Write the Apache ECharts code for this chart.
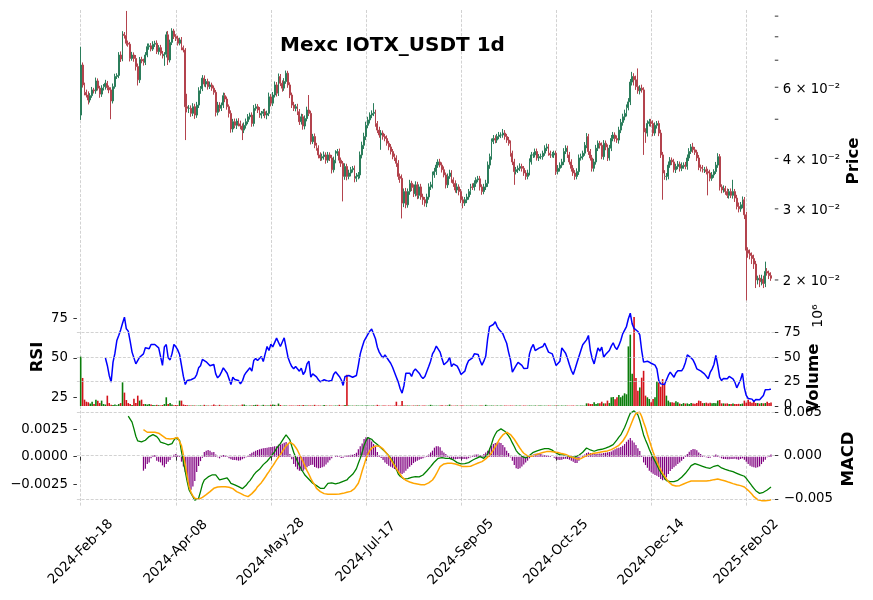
<!DOCTYPE html>
<html>
<head>
<meta charset="utf-8">
<title>Mexc IOTX_USDT 1d</title>
<script src="https://cdn.jsdelivr.net/npm/echarts@6.0.0/dist/echarts.min.js"></script>
<style>
  html, body { margin: 0; padding: 0; background: #fff; }
  #chart { width: 873px; height: 600px; }
</style>
</head>
<body>
<div id="chart"></div>
<script>
// ---- data ----
// first candle is 2024-02-18, one candle per day
var firstDay = Date.UTC(2024, 1, 18);
var monthNames = ['Jan', 'Feb', 'Mar', 'Apr', 'May', 'Jun', 'Jul', 'Aug', 'Sep', 'Oct', 'Nov', 'Dec'];
var xTickLabels = ['2024-Feb-18', '2024-Apr-08', '2024-May-28', '2024-Jul-17',
                   '2024-Sep-05', '2024-Oct-25', '2024-Dec-14', '2025-Feb-02'];

// prices in units of 1e-4 USDT
var firstOpenE4 = 512;
var closeE4 = [681,608,583,574,558,572,591,588,622,597,
577,597,602,614,599,591,555,602,638,642,
721,705,812,806,771,767,707,721,707,675,
626,703,697,691,721,756,760,746,767,771,
735,752,728,718,724,809,701,775,827,801,
793,771,786,752,742,537,532,532,517,537,
512,542,588,595,632,611,620,602,608,597,
583,520,542,532,542,572,561,537,517,473,
493,483,495,487,481,470,483,493,507,512,
488,532,537,527,512,517,522,512,517,568,
548,574,608,580,638,614,597,620,650,608,
574,542,532,537,522,493,507,481,502,527,
517,440,453,431,424,408,401,404,408,396,
408,401,375,396,412,416,396,389,361,382,
361,368,375,378,357,361,364,408,431,453,
483,498,512,517,520,488,470,457,462,453,
448,436,427,416,404,401,389,361,357,310,
331,307,331,347,339,327,344,324,340,321,
316,310,321,340,344,364,371,385,392,385,
375,364,344,361,368,354,347,334,340,331,
316,310,316,321,331,340,339,347,354,356,
340,331,340,347,385,404,440,448,444,453,
457,457,462,453,444,436,412,392,371,375,
378,382,378,368,361,368,392,408,408,416,
401,404,404,412,424,427,412,408,408,412,
371,378,385,392,416,424,408,392,378,368,
361,371,401,404,412,431,453,416,401,378,
392,424,436,431,404,436,427,401,424,448,
457,448,444,470,491,507,517,534,552,618,
638,626,602,588,597,591,465,462,488,493,
488,462,483,488,462,408,368,361,361,385,
396,392,375,382,387,378,384,385,382,401,
416,427,420,414,401,380,378,375,375,371,
368,357,364,371,385,404,340,334,337,331,
324,331,324,331,319,304,300,307,316,290,
237,233,230,226,219,200,202,198,201,196,
210,208,205,202];

// wick lengths above / below the candle body, 1e-4 USDT
var upperWickE4 = [75,10,8,9,12,8,10,7,12,9,
8,10,9,12,8,7,9,11,10,8,
12,15,14,10,121,12,10,13,11,14,
12,10,11,9,12,14,10,12,13,11,
13,11,12,10,9,15,18,12,13,10,
11,12,10,13,9,8,41,10,9,11,
9,10,12,9,11,10,9,10,12,8,
9,8,10,9,8,10,9,8,7,9,
8,9,7,8,9,7,8,9,8,7,
8,10,9,8,9,7,8,9,8,14,
9,10,12,10,11,9,10,12,10,9,
9,8,10,8,9,8,9,8,9,10,
47,8,7,8,6,7,6,7,8,6,
7,6,7,8,7,6,7,6,5,7,
6,7,6,5,6,7,6,8,9,10,
10,9,8,9,28,8,7,9,8,7,
7,8,6,7,6,7,6,7,6,8,
6,7,6,7,5,6,7,6,5,6,
6,5,6,7,6,7,8,7,6,7,
6,7,5,6,7,6,5,6,7,5,
5,6,5,6,5,6,7,6,5,6,
6,5,6,7,8,7,8,9,8,7,
8,7,11,8,7,8,7,6,7,6,
6,7,6,5,6,7,8,7,6,7,
7,6,7,6,7,8,7,6,7,6,
6,7,6,7,8,7,6,7,6,7,
6,7,8,7,6,8,9,7,6,7,
7,8,7,6,7,8,7,6,8,9,
8,7,8,9,10,9,11,10,12,11,
17,12,15,66,10,12,9,10,9,8,
8,9,8,7,8,9,7,6,7,8,
7,6,7,6,7,6,7,6,7,8,
8,7,10,7,6,7,6,7,6,7,
6,7,6,5,7,8,6,5,6,5,
6,5,6,23,5,6,7,5,6,5,
5,4,5,4,5,4,3,4,5,4,
12,4,3,4];

var lowerWickE4 = [14,9,10,8,14,8,7,9,10,8,
12,9,8,10,9,11,55,8,7,9,
10,12,9,14,10,11,12,9,13,15,
20,11,9,12,10,9,13,10,8,12,
10,12,9,11,40,13,20,10,12,11,
12,10,9,11,10,93,12,14,10,8,
11,8,9,10,8,9,11,10,8,9,
8,12,9,10,8,9,10,9,12,10,
9,8,10,7,9,26,8,9,7,8,
9,8,7,9,8,10,8,9,12,8,
10,9,8,11,9,10,12,9,8,10,
10,9,8,9,10,9,8,10,9,8,
8,7,6,7,6,8,7,6,7,8,
6,7,8,6,7,6,7,8,48,7,
8,6,7,6,8,7,6,7,8,9,
9,8,10,9,8,9,8,7,37,8,
7,6,8,7,6,7,8,7,9,26,
7,6,5,6,7,6,5,7,6,5,
9,6,7,5,6,7,6,7,6,5,
6,5,7,6,5,6,7,5,6,7,
6,9,5,6,5,6,5,6,7,5,
7,6,5,6,7,8,7,6,8,7,
7,8,7,8,7,6,8,7,27,6,
7,6,7,6,7,6,5,6,7,6,
6,7,6,7,6,7,6,7,6,7,
7,6,7,6,7,6,7,6,7,6,
7,6,7,6,7,6,7,8,6,7,
7,6,7,8,6,7,8,7,6,7,
7,8,7,9,8,9,10,9,8,10,
12,20,11,10,12,9,57,25,9,8,
9,8,7,9,8,7,52,7,8,6,
6,7,6,7,6,7,6,7,6,7,
7,6,7,6,7,6,7,6,7,6,
44,6,5,6,5,6,7,6,5,6,
5,6,5,6,7,5,6,5,6,7,
59,6,5,7,6,9,5,6,4,5,
4,3,4,3];

// volume, millions
var volumeM = [50.5,28.7,6.5,4.4,3.8,2.5,4.4,2.0,6.5,5.5,
3.0,5.5,2.0,1.5,10.6,3.0,1.4,1.0,1.5,0.8,
2.0,3.0,24.2,13.7,6.1,3.0,2.0,1.0,7.5,3.0,
10.6,5.5,6.5,2.0,2.0,1.5,2.0,1.5,1.0,0.8,
1.2,0.8,0.6,1.0,2.0,8.9,2.0,3.0,1.5,0.8,
1.0,0.8,5.5,5.5,1.5,1.0,0.8,0.5,0.6,0.4,
0.5,0.3,0.4,0.6,0.3,1.2,0.4,0.5,0.3,0.4,
1.5,0.6,0.3,1.2,0.4,0.3,0.5,0.4,0.3,0.6,
0.4,0.3,0.5,0.4,0.3,1.5,1.5,0.4,0.3,0.5,
0.4,0.8,1.2,1.2,0.3,0.4,1.2,0.5,0.4,0.6,
1.2,1.5,1.2,0.4,2.5,1.0,0.3,0.4,0.5,0.3,
0.4,0.5,0.4,0.3,0.6,0.8,0.4,1.0,0.5,0.4,
0.6,0.5,0.4,1.2,0.3,0.5,0.4,0.3,1.0,0.4,
0.3,0.5,0.4,0.3,0.5,0.4,1.2,0.3,0.4,1.0,
32.0,0.5,0.3,0.4,0.3,0.5,0.4,0.3,0.4,0.3,
0.5,0.4,0.3,0.4,0.5,0.3,1.2,0.4,0.3,0.5,
0.4,0.3,0.5,0.4,0.3,0.5,4.4,0.4,0.6,5.0,
0.6,0.4,0.5,0.4,0.3,0.5,0.4,0.6,0.4,0.3,
0.5,0.4,0.3,0.4,1.2,0.5,0.3,0.4,0.3,0.5,
0.8,0.3,0.4,0.5,1.5,0.4,0.3,0.4,0.5,0.3,
0.4,0.5,0.3,0.4,0.3,0.5,0.4,0.3,0.4,0.3,
0.5,0.4,0.3,1.2,0.4,0.3,0.5,0.4,0.3,0.4,
0.3,0.4,0.3,0.5,0.4,0.3,0.5,0.4,0.3,0.4,
0.3,0.4,0.3,0.5,0.4,0.3,0.5,0.4,0.3,0.4,
0.3,0.5,0.4,0.3,0.4,0.3,0.5,0.4,0.3,0.4,
0.5,0.4,0.3,0.4,0.3,0.5,0.4,0.3,0.4,0.5,
0.3,0.4,0.3,0.5,0.4,0.3,2.7,2.7,2.0,2.0,
3.8,2.0,2.7,2.7,4.4,2.7,2.7,5.5,3.0,8.9,
9.2,6.8,8.9,11.3,9.0,10.6,13.0,12.0,61.0,73.0,
33.0,91.0,28.7,15.7,19.0,29.0,36.0,10.6,8.9,7.2,
3.8,7.2,8.9,25.0,24.0,19.8,27.6,22.5,10.6,5.5,
3.8,3.8,3.4,4.8,3.8,2.5,2.0,3.0,2.5,2.7,
2.0,3.0,2.5,2.2,3.0,5.5,5.0,3.0,3.0,3.4,
2.7,3.4,2.7,3.0,2.7,5.5,6.1,2.7,2.7,2.5,
2.7,2.0,2.0,2.5,2.0,2.0,2.2,2.0,2.5,5.5,
3.4,6.5,4.4,3.4,5.5,3.0,3.0,2.5,3.0,2.7,
3.0,4.4,3.0,3.5];

// RSI, first value on candle 13
var rsiStart = 13;
var rsiValues = [50,45.3,39.0,34.8,47.4,53,61,64.2,67.7,71.9,
75.7,68.4,66.9,60.6,53.7,53,46.3,45.3,50.5,50.5,
52.6,56.4,57.2,55.8,58.5,58.9,58.5,58.5,56.4,55.8,
45.3,57,58.5,50.1,48.8,52.6,58.5,57.2,55.1,52.2,
51.6,38.4,33.3,35.8,36.3,36.3,35.8,37.5,39.6,43.8,
45.1,49.1,48.6,47.6,47,45.1,44.9,45.9,40,37.5,
38.8,41.1,43.8,44.2,40.4,36.9,33.3,37.9,36.5,36.9,
35.8,33.7,35.4,39,40.9,42.1,43.8,41.7,48.4,49.7,
48.4,48.4,50.9,47.8,52.6,57.2,54.7,58.7,57,57.9,
62.5,61.4,57.2,56.8,62.7,63.5,50.5,47.2,44.6,43.2,
44.6,44.2,41.7,43.6,39.6,41.5,46.3,48,37.9,40,
39.6,38.1,36.3,35,34.8,36.3,35.2,35.4,34.8,35.8,
39.6,41.3,41.3,38.4,36.3,32.7,38.4,37.5,39,38.8,
37.9,38.1,39,45.3,52.6,56.8,60.6,60.2,64.8,66.9,
68.2,67.7,62.1,56.8,53.7,51.6,50.1,52,51.6,48.4,
46.7,44.2,44.9,37.9,34.8,30.6,27.9,32.7,40.4,41.1,
40.4,38.4,41.7,43,42.5,40.4,38.4,37.1,38.4,41.5,
44.6,48,52.6,54.7,57.5,56.8,53.7,49.5,45.7,46.3,
48,50.5,44.6,46.3,45.1,44.9,42.5,39.6,38.8,41.7,
45.7,48.4,49.1,50.1,52.6,53.5,52.2,48.4,45.5,48,
51.2,62.1,69.8,68.8,71.1,72.8,69.8,67.9,66.9,65.2,
62.1,59.3,53.7,48.8,41.1,40.4,45.3,47.2,46.3,45.3,
43.4,42.3,43.6,52.6,56.4,58.5,54.7,55.8,56.2,56.8,
57.2,59.3,59.3,53.7,54.3,52.6,53.7,45.3,44.2,48,
56.4,56.2,53,49.7,45.7,42.1,39.6,43.2,47.2,50.9,
54.7,58.3,59.3,61.4,64.2,54.7,49.5,46.3,51.4,56.4,
54.3,56.8,50.5,52.2,52.6,54.7,57.5,59.6,56.8,55.4,
57.9,61,65.2,65.6,69.8,74.7,78.2,71.5,68.6,68.4,
66.7,64.6,54.7,47.4,47,48,48,46.7,46.3,45.5,
43.2,35.8,33.7,33.7,33.3,34.2,39,41.1,40,37.9,
40.6,41.9,41.3,41.9,43.8,47.2,52,51.6,50.1,48.8,
46.3,43.2,42.8,41.9,40.9,40,39,36.9,40.9,43,
45.9,51.6,45.3,37.9,35.8,37.1,36.3,36.9,38.4,39,
36.9,34.8,31.2,32,36.3,40.4,31.2,26.4,24.5,25.1,
24.1,22.6,23.9,23.9,23.7,23.7,26.4,30,30.4,30.2,
30.4];

// MACD line, units of 1e-4, first value on candle 25
var macdStart = 25;
var macdE4 = [45.4,44.6,38.5,30.8,22.3,16.9,15.4,15.8,15.4,17.7,
20,21.9,23.5,24.2,23.8,21.9,19.2,15.4,13.5,14.2,
15.4,12.3,10.4,13.8,17.7,20.4,20.4,17.7,4.6,-6.9,
-18.5,-30,-39.6,-43.5,-47.3,-51.5,-52.7,-49.2,-41.5,-33.1,
-28.1,-25.8,-24.6,-23.5,-22.3,-21.5,-22.3,-25,-28.1,-28.8,
-26.9,-25.4,-25.8,-28.5,-31.9,-33.8,-33.8,-34.6,-35.8,-36.5,
-38.1,-37.3,-34.2,-31.2,-28.8,-25.8,-22.3,-19.6,-17.7,-15.8,
-13.5,-10.4,-8.5,-6.5,-4.6,-1.2,0.8,4.6,8.5,11.2,
13.8,17.3,20.8,23.8,23.1,18.1,10.8,3.8,-1.5,-6.9,
-11.5,-15.8,-19.2,-22.7,-24.6,-27.3,-29.2,-31.9,-33.1,-34.6,
-36.5,-37.7,-38.1,-37.7,-35.4,-31.9,-30,-31.5,-33.1,-32.7,
-31.9,-31.5,-30.4,-29.6,-29.2,-28.1,-25.4,-23.1,-21.5,-18.5,
-15,-8.8,-3.1,3.5,11.5,16.9,20.8,20.4,18.8,16.2,
14.6,12.7,11.5,8.8,6.5,4.6,2.7,0,-3.1,-6.2,
-10.8,-15.8,-21.2,-23.8,-25.8,-26.9,-26.9,-26.5,-25.8,-25,
-24.2,-24.2,-24.6,-24.6,-24.2,-22.3,-20.4,-17.7,-15.8,-12.7,
-10,-7.3,-5,-3.1,-2.3,-2.3,-2.3,-3.1,-3.1,-3.1,
-3.8,-5,-6.5,-8.1,-9.6,-9.6,-8.8,-9.2,-10,-8.1,
-6.5,-5.4,-4.2,-3.1,-1.9,-1.2,-2.3,-3.1,-1.5,1.5,
7.3,13.1,20,24.6,28.1,30,30.8,30,28.1,25.8,
22.7,19.2,14.6,10.4,5.8,3.1,0.8,-0.8,-2.3,-2.7,
-2.3,0,1.9,3.8,4.6,5.4,6.2,6.9,7.7,8.1,
8.5,8.1,7.7,6.2,5,3.1,1.5,0.8,0.8,0.8,
0.4,-0.4,-1.2,-1.9,-2.3,-1.5,-0.8,0.4,1.5,3.8,
5.8,8.8,8.1,6.5,5.4,5,6.2,6.5,6.5,7.3,
7.7,8.5,9.6,10.4,11.2,12.7,14.2,18.1,21.2,23.8,
28.1,32.3,37.7,43.5,48.8,50.4,51.5,50.4,46.9,40.4,
32.3,23.8,18.1,13.1,7.3,2.3,-2.3,-6.5,-10.8,-15.4,
-19.2,-22.3,-25.8,-28.8,-29.6,-30,-30,-30,-29.6,-28.5,
-27.3,-25,-23.1,-20.4,-18.1,-14.6,-11.5,-9.2,-9.2,-10,
-10.8,-11.5,-12.3,-13.1,-13.8,-14.2,-14.6,-13.5,-12.3,-10.4,
-11.2,-13.1,-14.2,-15.4,-15.8,-16.5,-17.3,-17.7,-18.5,-19.2,
-20.4,-21.5,-22.3,-22.7,-23.8,-26.2,-29.2,-31.5,-35,-37.7,
-40.4,-42.7,-43.5,-43.1,-42.3,-41.2,-39.6,-38.1,-36.2];

// signal line and histogram, units of 1e-4, first value on candle 33
var signalStart = 33;
var signalE4 = [30,27.7,26.9,26.9,26.9,26.9,26.9,26.5,25.8,24.2,
22.7,20.8,19.6,19.2,19.2,19.2,19.6,20,20.8,20,
11.5,0.8,-10.8,-24.2,-35.8,-42.3,-46.5,-49.2,-50.4,-50.4,
-50,-48.1,-46.2,-45,-43.5,-41.5,-39.2,-37.7,-36.5,-36.2,
-35.8,-35.8,-35.8,-35.8,-35.8,-36.5,-37.3,-38.1,-39.6,-41.5,
-42.7,-43.5,-44.6,-45.8,-46.9,-47.3,-46.2,-43.8,-41.9,-39.2,
-35.8,-33.8,-31.2,-28.1,-25,-21.5,-18.5,-15,-11.9,-8.5,
-5,-2.7,1.2,4.6,8.1,11.2,13.5,15.4,14.6,12.7,
9.6,6.2,1.5,-3.1,-7.3,-12.3,-17.3,-21.5,-26.2,-30.4,
-33.5,-37.7,-39.6,-41.5,-42.7,-43.8,-44.2,-44.6,-44.6,-44.6,
-44.6,-44.6,-44.6,-44.2,-43.8,-43.5,-43.1,-42.3,-41.9,-41.2,
-39.6,-38.1,-36.2,-31.9,-25.4,-17.7,-10.8,-3.8,1.5,5.8,
8.5,10.4,11.2,11.5,10.8,9.6,7.7,5.4,2.3,-0.8,
-4.2,-7.7,-11.5,-15,-18.5,-21.5,-24.6,-26.9,-28.5,-29.6,
-30.4,-31.2,-31.9,-32.3,-32.7,-33.1,-33.5,-33.8,-33.5,-33.1,-31.5,
-30.4,-28.1,-25,-21.2,-16.9,-12.7,-10.8,-9.6,-9.2,-8.8,
-8.8,-8.8,-8.8,-9.6,-10,-11.2,-11.9,-12.7,-12.7,-12.7,
-12.3,-12.3,-11.2,-10.4,-9.2,-8.5,-7.7,-6.9,-5.8,-3.8,
-1.9,0.4,3.1,6.5,10.4,13.8,18.1,21.2,23.8,25.8,
26.9,25.8,24.2,21.9,18.8,15.4,11.9,8.5,5.4,2.7,
0.8,-0.4,-1.2,-0.8,0,0.8,1.9,2.3,3.1,3.5,
3.8,4.6,4.6,4.6,4.6,4.2,3.8,3.5,2.7,2.3,
1.5,1.2,0.4,-0.8,-1.5,-2.3,-3.1,-3.8,-3.8,-3.5,
-2.7,-1.2,0,0.8,1.5,2.3,2.7,3.1,3.5,3.8,
4.2,4.6,5,5.4,6.2,6.9,8.1,9.2,10.4,11.9,
13.5,16.5,20,23.5,28.5,33.8,39.2,44.6,48.8,50.8,
50,45,38.5,32.3,24.6,17.7,10.8,4.2,-1.5,-6.5,
-11.9,-16.5,-20.4,-23.8,-26.9,-30,-32.3,-33.8,-34.6,-35,
-35,-34.6,-34.2,-32.7,-31.5,-30.8,-29.6,-29.2,-29.2,-29.2,
-29.2,-29.2,-29.2,-29.2,-29.2,-29.2,-29.2,-28.8,-28.5,-27.7,
-26.9,-26.9,-27.3,-28.1,-28.5,-29.2,-30,-30.8,-31.2,-32.3,
-32.7,-33.5,-33.8,-34.6,-35.4,-36.2,-37.3,-40,-42.3,-44.6,
-47.3,-49.2,-50.8,-51.5,-51.9,-51.9,-51.9,-51.9,-51.5,-50.8];

var histE4 = [-12.7,-11,-6.7,-5.2,-1.5,1.2,1.5,-3.6,-4.5,-5.2,
-7.9,-9.7,-6.7,-4.5,-3,-0.6,1.8,2.4,1.2,0.6,
-4.5,-9,-14,-21,-27,-30,-27,-22,-14,-8.5,
-4,-1,4.2,5.5,6,5.5,4,4.2,2,-0.6,
-1.5,0.6,1.5,1.2,0.3,-1.5,-2.4,-3,-3,-3.3,
-3.6,-3.3,-2.4,-1.5,-0.6,0.6,2.4,3.6,4.5,5.5,
6.1,6.7,7.3,7.6,7.9,8.2,8.5,8.8,9.1,9.4,
9.4,10.9,11.2,11.8,12.7,13.3,11.5,2.4,-2.4,-6.7,
-9.1,-11.5,-12.7,-13,-12.7,-11.5,-9.7,-8.5,-7.6,-7.3,
-9.4,-10,-10.6,-10.3,-9.7,-8.8,-7,-5.2,-3.3,-1.5,
0,0.6,0.9,0.3,-1.2,-0.9,0.3,1.2,1.5,1.8,
1.8,2.4,3.6,6.7,9.4,12.1,16.1,17.6,17.9,16.1,
13.9,11.5,9.1,4.2,1.2,-1.2,-3,-5.2,-6.7,-8.2,
-9.1,-10,-11.2,-12.4,-13.6,-15.2,-15.8,-14.5,-12.7,-10.9,
-9.1,-7.6,-5.8,-4.5,-3.6,-2.7,-2.1,-1.5,-0.6,0.6,2.1,
3.9,5.5,8.2,9.4,9.4,8.5,5.5,3.9,2.4,0.9,
-1.5,-2.1,-2.1,-2.4,-2.1,-1.8,-1.8,-2.1,-2.1,-2.4,
-1.5,-0.6,0.9,1.8,2.1,2.1,1.5,0.9,2.4,3.9,
5.5,7.6,10,11.5,12.4,13,13,12.4,10.6,8.5,
5.5,3.3,-0.6,-3.6,-7.6,-10.6,-11.2,-10.6,-8.8,-7,
-5.2,-3.6,-1.5,0.9,2.1,2.7,3,2.7,2.4,1.8,
1.5,1.2,0.9,0.6,0,-0.9,-2.1,-2.7,-3,-2.7,
-2.1,-1.8,-2.1,-2.7,-3.6,-4.5,-5.8,-5.8,-3.6,-0.6,
0.9,2.1,3.3,3.9,3.3,2.7,2.4,2.4,2.7,3,
3,3.3,3.6,3.9,4.2,4.8,5.8,6.7,7.6,8.2,
8.8,10,11.5,13.6,15.5,17,14.8,13,10.6,7.6,
5.2,0.9,-5.2,-7.6,-10,-12.7,-14.2,-15.5,-16.7,-17.3,
-18.5,-20.3,-21.5,-20.9,-18.8,-15.8,-13,-11.2,-9.7,-8.2,
-6.7,-5.2,-3.6,-2.1,0.9,2.4,4.5,6.1,7,6.7,
5.8,3.9,2.4,0.9,0.3,-0.6,-1.2,-0.9,0,0.9,
2.1,1.5,-0.6,-1.5,-2.1,-2.1,-2.4,-2.4,-2.1,-2.1,
-1.8,-2.4,-2.7,-2.1,-1.5,-2.7,-4.5,-6.7,-8.2,-9.1,
-9.7,-10,-9.7,-8.8,-6.7,-4.5,-2.7,-0.6,0.9,2.1];

// axis ticks
var priceMinorTicks = [0.02, 0.03, 0.04, 0.05, 0.06, 0.07, 0.08, 0.09];
var priceLabelTicks = [0.02, 0.03, 0.04, 0.06];
var rsiTicks = [25, 50, 75];
var volumeTicks = [0, 25, 50, 75];
var histTicksE4 = [-25, 0, 25];
var macdTicksE4 = [-50, 0, 50];

// ---- layout ----
var FONT = 'DejaVu Sans';
var GRID_LEFT = 76.9;
var GRID_RIGHT = 98.2;
var PLOT_RIGHT = 873 - GRID_RIGHT;
var PAD_BEFORE = 2, PAD_AFTER = 2;
var UP = '#2b7d5b', DOWN = '#b3434d';
var VOL_UP = '#0b7d0b', VOL_DOWN = '#d3121a';

var nCandles = closeE4.length;
var categories = [];
for (var k = 0; k < nCandles + PAD_BEFORE + PAD_AFTER; k++) {
    var d = new Date(firstDay + (k - PAD_BEFORE) * 86400000);
    var dd = d.getUTCDate();
    categories.push(d.getUTCFullYear() + '-' + monthNames[d.getUTCMonth()] + '-' + (dd < 10 ? '0' + dd : dd));
}

// candles open at the previous close (24h market)
var openE4 = [firstOpenE4].concat(closeE4.slice(0, nCandles - 1));

function pad(values, start) {
    var out = [];
    for (var k = 0; k < categories.length; k++) {
        var i = k - PAD_BEFORE - start;
        out.push(i >= 0 && i < values.length ? values[i] : '-');
    }
    return out;
}

var candles = [], volumes = [];
for (var i = 0; i < nCandles; i++) {
    var o = openE4[i] / 1e4, c = closeE4[i] / 1e4;
    var hi = Math.max(openE4[i], closeE4[i]) + upperWickE4[i];
    var lo = Math.min(openE4[i], closeE4[i]) - lowerWickE4[i];
    candles.push([o, c, lo / 1e4, hi / 1e4]);
    volumes.push({
        value: volumeM[i],
        itemStyle: { color: closeE4[i] >= openE4[i] ? VOL_UP : VOL_DOWN }
    });
}

function isTick(idx, val) {
    return xTickLabels.indexOf(val) >= 0;
}

function fmtNum(v, digits) {
    var s = Math.abs(v).toFixed(digits);
    return (v < -1e-9 ? '\u2212' : '') + s;
}

var gridLineStyle = { color: '#c6c6c6', width: 0.8, type: [3, 1.6] };

function xAxisFor(gridIndex, bottom) {
    return {
        type: 'category',
        gridIndex: gridIndex,
        data: categories,
        boundaryGap: false,
        axisLine: { show: false },
        axisTick: { show: bottom, interval: isTick, length: 4, lineStyle: { color: '#000', width: 0.8 } },
        axisLabel: {
            show: bottom, interval: isTick, rotate: 45, align: 'center', verticalAlign: 'middle',
            margin: 45, fontFamily: FONT, fontSize: 13.5, color: '#000'
        },
        splitLine: { show: true, interval: isTick, lineStyle: gridLineStyle }
    };
}

function valueAxis(gridIndex, pos, min, max, ticks, fmt) {
    return {
        type: 'value',
        gridIndex: gridIndex,
        position: pos,
        min: min,
        max: max,
        axisLine: { show: false },
        axisTick: { show: true, customValues: ticks, length: 3.5, lineStyle: { color: '#000', width: 0.8 } },
        axisLabel: {
            customValues: ticks, margin: 9, fontFamily: FONT, fontSize: 13.3, color: '#000',
            formatter: fmt
        },
        splitLine: { show: false }
    };
}

var chart = echarts.init(document.getElementById('chart'), null, { renderer: 'canvas' });

chart.setOption({
    animation: false,
    backgroundColor: '#fff',
    grid: [
        { left: GRID_LEFT, right: GRID_RIGHT, top: 10, height: 294 },
        { left: GRID_LEFT, right: GRID_RIGHT, top: 304, height: 102 },
        { left: GRID_LEFT, right: GRID_RIGHT, top: 406, height: 101 }
    ],
    xAxis: [xAxisFor(0, false), xAxisFor(1, false), xAxisFor(2, true)],
    yAxis: [
        {
            type: 'log', logBase: 10, gridIndex: 0, position: 'right',
            min: 0.01744, max: 0.0932,
            axisLine: { show: false }, axisTick: { show: false },
            axisLabel: { show: false }, splitLine: { show: false }
        },
        valueAxis(1, 'left', 19.77, 84.0, rsiTicks, function (v) { return String(v); }),
        valueAxis(1, 'right', 0, 104.4, volumeTicks, function (v) { return String(v); }),
        valueAxis(2, 'left', -45.73, 46.09, histTicksE4, function (v) { return fmtNum(v / 1e4, 4); }),
        valueAxis(2, 'right', -59.22, 57.14, macdTicksE4, function (v) { return fmtNum(v / 1e4, 3); })
    ],
    series: [
        {
            type: 'candlestick', xAxisIndex: 0, yAxisIndex: 0,
            data: pad(candles, 0),
            barWidth: 1.4,
            itemStyle: { color: UP, color0: DOWN, borderColor: UP, borderColor0: DOWN, borderWidth: 1 }
        },
        {
            type: 'bar', xAxisIndex: 1, yAxisIndex: 2,
            data: pad(volumes, 0),
            barWidth: 1.6,
            markLine: {
                silent: true, symbol: 'none', label: { show: false },
                lineStyle: gridLineStyle,
                data: [{ yAxis: 25 }, { yAxis: 50 }, { yAxis: 75 }]
            }
        },
        {
            type: 'line', xAxisIndex: 1, yAxisIndex: 1,
            data: pad(rsiValues, rsiStart),
            showSymbol: false,
            lineStyle: { color: '#0000ff', width: 1.5 },
            itemStyle: { color: '#0000ff' }
        },
        {
            type: 'bar', xAxisIndex: 2, yAxisIndex: 3,
            data: pad(histE4, signalStart),
            barWidth: 1.2,
            itemStyle: { color: '#800080' }
        },
        {
            type: 'line', xAxisIndex: 2, yAxisIndex: 4,
            data: pad(macdE4, macdStart),
            showSymbol: false,
            lineStyle: { color: '#008000', width: 1.3 },
            itemStyle: { color: '#008000' },
            markLine: {
                silent: true, symbol: 'none', label: { show: false },
                lineStyle: gridLineStyle,
                data: [{ yAxis: -50 }, { yAxis: 0 }, { yAxis: 50 }]
            }
        },
        {
            type: 'line', xAxisIndex: 2, yAxisIndex: 4,
            data: pad(signalE4, signalStart),
            showSymbol: false,
            lineStyle: { color: '#ffa500', width: 1.5 },
            itemStyle: { color: '#ffa500' }
        }
    ]
});

// log price axis: ticks and labels placed through the axis scale
var sup = { '0': '\u2070', '1': '\u00b9', '2': '\u00b2', '3': '\u00b3', '4': '\u2074', '5': '\u2075',
            '6': '\u2076', '7': '\u2077', '8': '\u2078', '9': '\u2079', '-': '\u207b' };
function sciLabel(v) {
    var exp = Math.floor(Math.log10(v) + 1e-9);
    var mant = Math.round(v / Math.pow(10, exp));
    var e = String(exp).split('').map(function (ch) { return sup[ch]; }).join('');
    return mant + ' \u00d7 10' + e;
}

var graphics = [];
priceMinorTicks.forEach(function (v) {
    var y = chart.convertToPixel({ yAxisIndex: 0 }, v);
    graphics.push({
        type: 'line', silent: true,
        shape: { x1: PLOT_RIGHT, y1: y, x2: PLOT_RIGHT + 3.5, y2: y },
        style: { stroke: '#000', lineWidth: 0.8 }
    });
});
priceLabelTicks.forEach(function (v) {
    var y = chart.convertToPixel({ yAxisIndex: 0 }, v);
    graphics.push({
        type: 'text', silent: true, x: PLOT_RIGHT + 8, y: y + 2,
        style: { text: sciLabel(v), font: '13.3px ' + FONT, fill: '#000', align: 'left', verticalAlign: 'middle' }
    });
});

function label(text, x, y, size, bold, rot) {
    return {
        type: 'text', silent: true, x: x, y: y, rotation: rot || 0,
        style: {
            text: text, font: (bold ? 'bold ' : '') + size + 'px ' + FONT,
            fill: '#000', align: 'center', verticalAlign: 'middle'
        }
    };
}

graphics.push(label('Mexc IOTX_USDT 1d', 392.5, 46, 20, true));
graphics.push(label('Price', 854, 161, 16.5, true, Math.PI / 2));
graphics.push(label('RSI', 38, 357, 16.5, true, Math.PI / 2));
graphics.push(label('Volume', 814, 378, 16.5, true, Math.PI / 2));
graphics.push(label('10\u2076', 818, 316, 14, false, Math.PI / 2));
graphics.push(label('MACD', 849, 459, 16.5, true, Math.PI / 2));

chart.setOption({ graphic: graphics });
</script>
</body>
</html>
